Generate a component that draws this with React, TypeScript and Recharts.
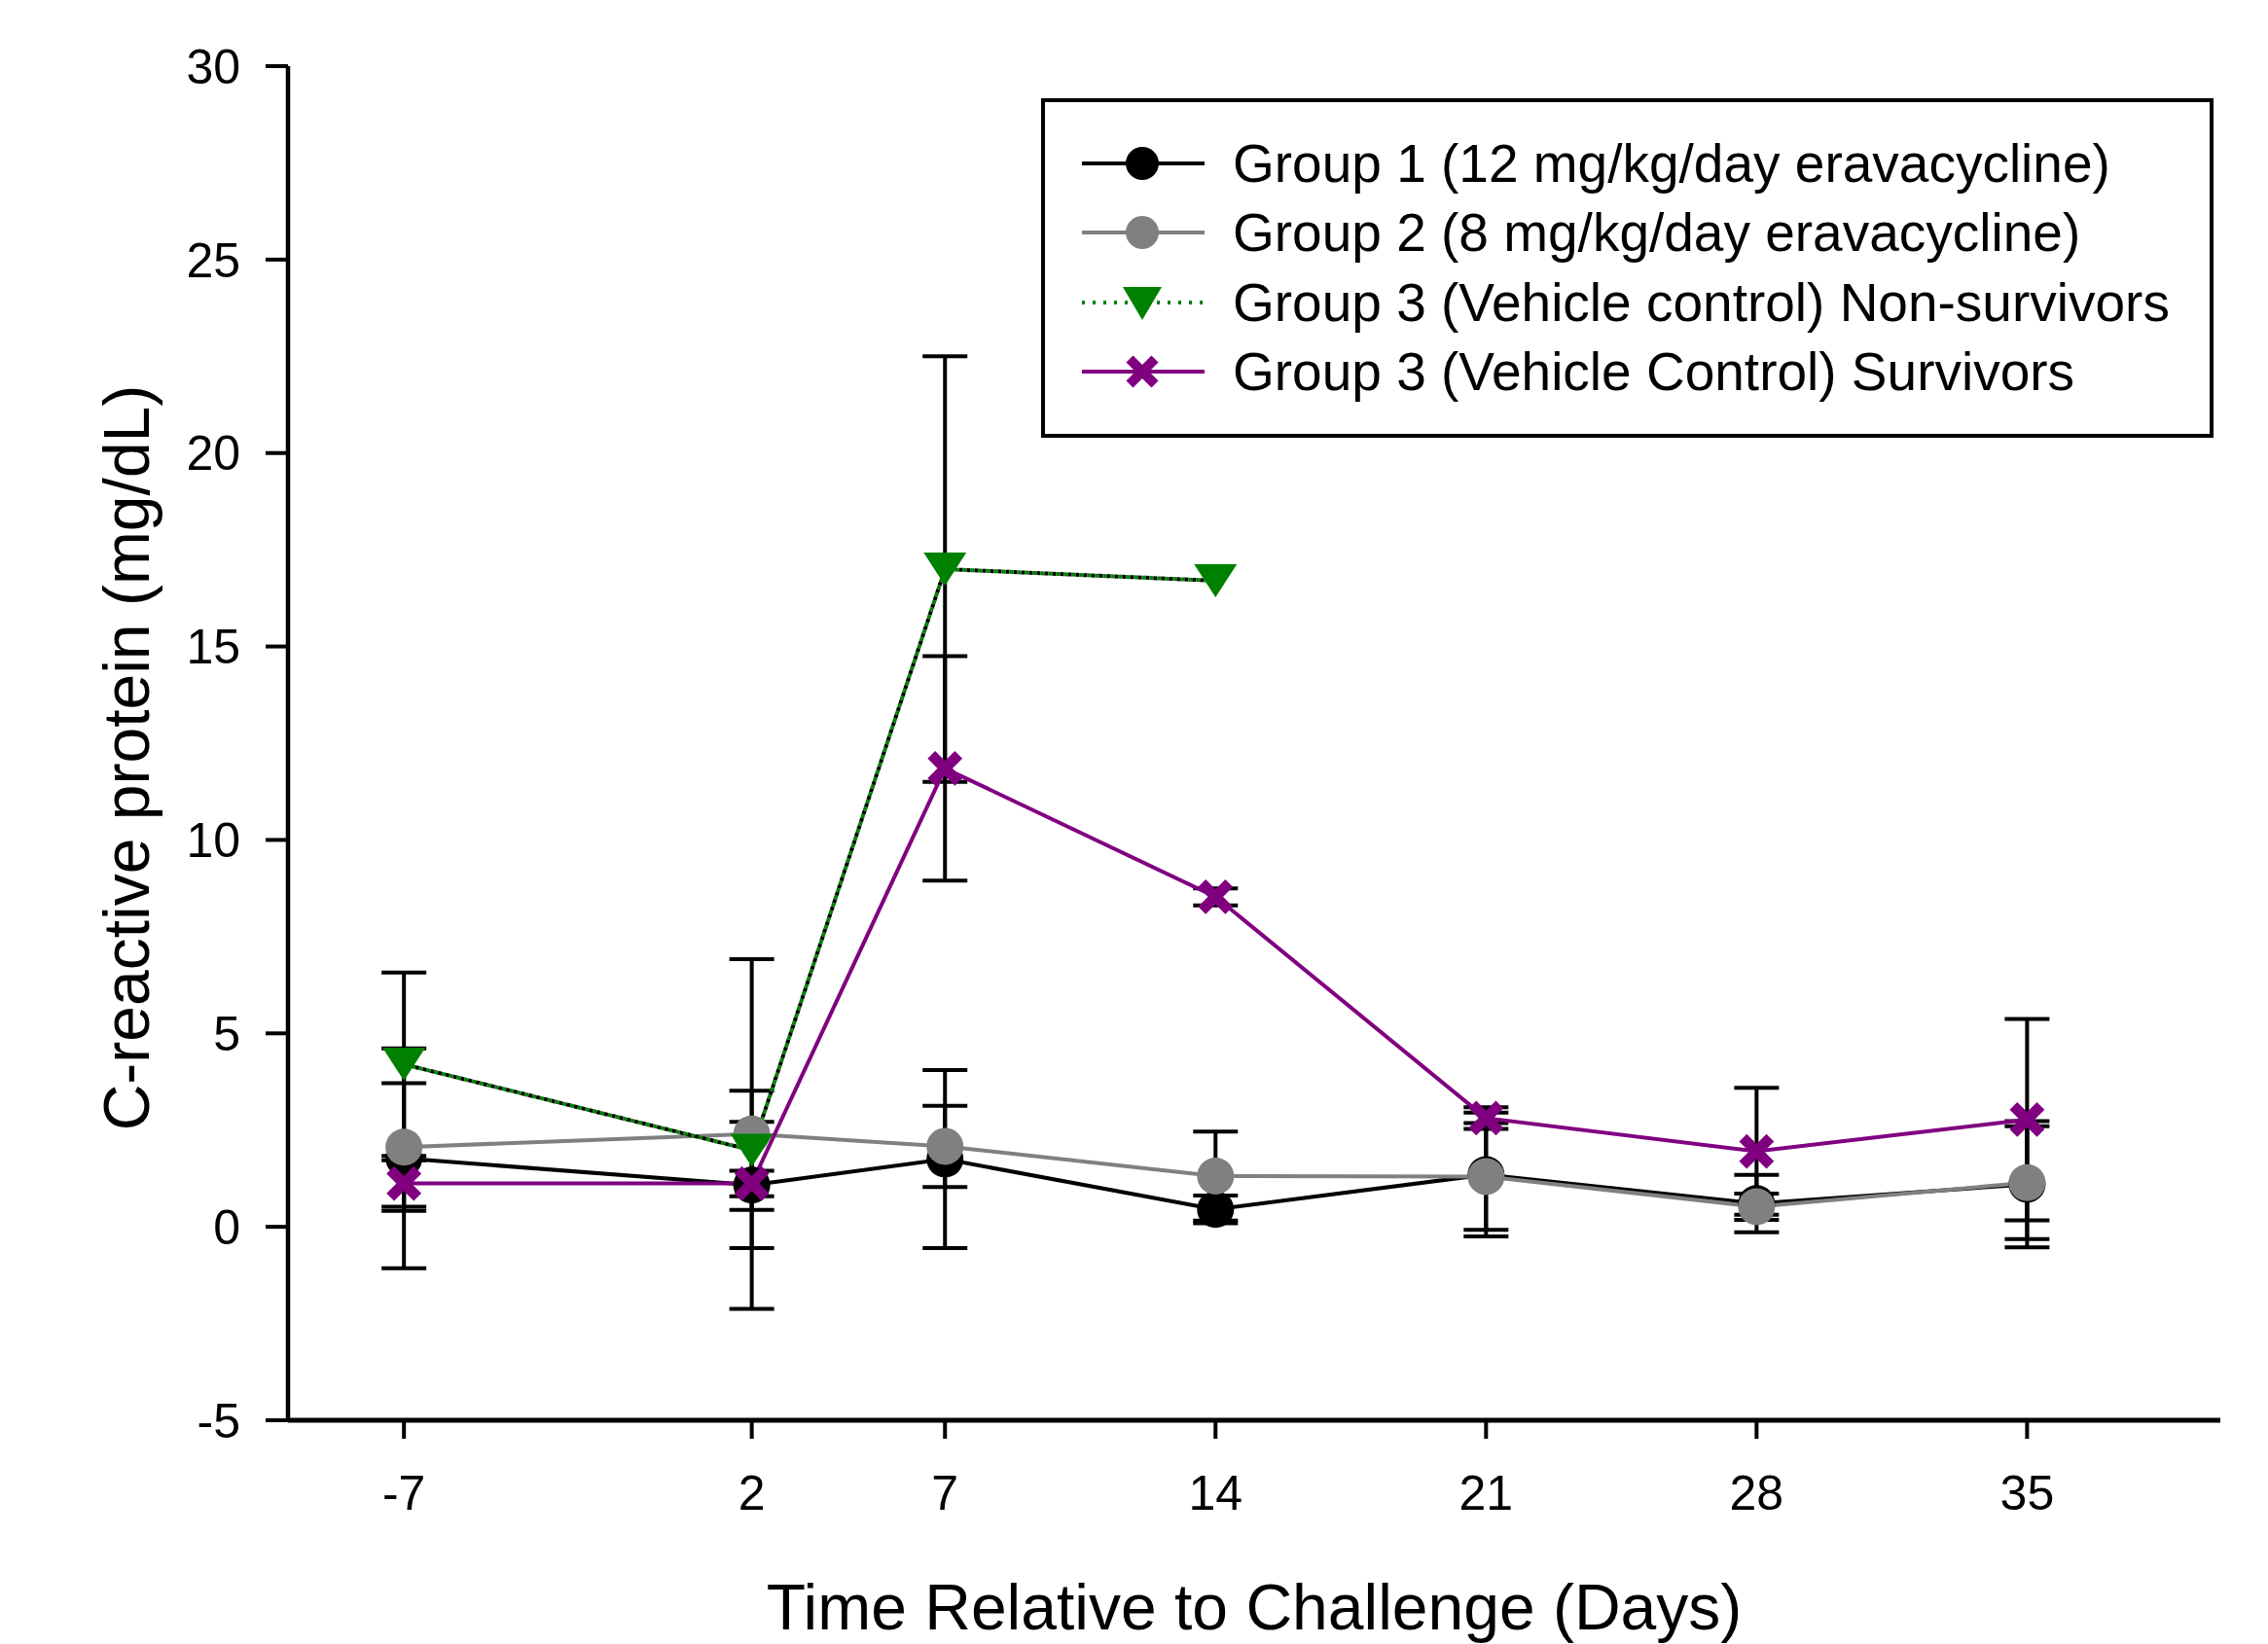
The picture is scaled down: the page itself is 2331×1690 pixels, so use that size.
import React from 'react';
import { ComposedChart, Line, XAxis, YAxis, ErrorBar, Legend, Label } from 'recharts';

// ---------- data ----------
const days = [-7, 2, 7, 14, 21, 28, 35];
const nonSurvivorDays = [-7, 2, 7, 14];

const group1Mean = [1.77, 1.08, 1.75, 0.45, 1.35, 0.6, 1.1];
const group1Err = [2.84, 1.63, 2.3, 0.36, 1.6, 0.74, 1.63];

const group2Mean = [2.06, 2.4, 2.08, 1.31, 1.3, 0.52, 1.14];
const group2Err = [1.65, 4.52, 1.05, 1.15, 1.38, 0.34, 1.46];

const group3NonSurvMean = [4.2, 1.98, 17.0, 16.7];
const group3NonSurvErr: (number | null)[] = [2.37, 1.54, 5.5, null];

const group3SurvMean = [1.12, 1.12, 11.85, 8.53, 2.81, 1.95, 2.77];
const group3SurvErr = [0.6, 0.33, 2.9, 0.22, 0.28, 1.64, 2.6];

const xTicks = [-7, 2, 7, 14, 21, 28, 35];
const yTicks = [-5, 0, 5, 10, 15, 20, 25, 30];

const seriesNames = [
  'Group 1 (12 mg/kg/day eravacycline)',
  'Group 2 (8 mg/kg/day eravacycline)',
  'Group 3 (Vehicle control) Non-survivors',
  'Group 3 (Vehicle Control) Survivors',
];

const xTitle = 'Time Relative to Challenge (Days)';
const yTitle = 'C-reactive protein (mg/dL)';

// ---------- helpers ----------
const build = (xs: number[], ys: number[], es: (number | null)[]) =>
  xs.map((x, i) => ({ x, y: ys[i], e: es[i] }));

const g1Data = build(days, group1Mean, group1Err);
const g2Data = build(days, group2Mean, group2Err);
const g3nsData = build(nonSurvivorDays, group3NonSurvMean, group3NonSurvErr);
const g3nsErrData = g3nsData.filter((d) => d.e != null);
const g3sData = build(days, group3SurvMean, group3SurvErr);

const FONT = '"Liberation Sans", Arial, Helvetica, sans-serif';
const BLACK = '#000000';
const GRAY = '#808080';
const GREEN = '#008000';
const PURPLE = '#800080';

const LINE_W = 4;
const MARK_R = 19;

const circleDot = (fill: string, r: number) => (props: any) => {
  const { cx, cy, index } = props;
  if (cx == null || cy == null) return <g key={`c${fill}${index}`} />;
  return <circle key={`c${fill}${index}`} cx={cx} cy={cy} r={r} fill={fill} />;
};

const triangleDot = (props: any) => {
  const { cx, cy, index } = props;
  if (cx == null || cy == null) return <g key={`t${index}`} />;
  const w = 22;
  const h = 17;
  return (
    <path
      key={`t${index}`}
      d={`M${cx - w},${cy - h} L${cx + w},${cy - h} L${cx},${cy + h} Z`}
      fill={GREEN}
    />
  );
};

const crossDot = (props: any) => {
  const { cx, cy, index } = props;
  if (cx == null || cy == null) return <g key={`x${index}`} />;
  const s = 14;
  return (
    <g key={`x${index}`} stroke={PURPLE} strokeWidth={11}>
      <line x1={cx - s} y1={cy - s} x2={cx + s} y2={cy + s} />
      <line x1={cx - s} y1={cy + s} x2={cx + s} y2={cy - s} />
    </g>
  );
};

const legendRows = [
  { name: seriesNames[0], color: BLACK, marker: 'circle', dash: undefined },
  { name: seriesNames[1], color: GRAY, marker: 'circle', dash: undefined },
  { name: seriesNames[2], color: GREEN, marker: 'triangle', dash: '3 8' },
  { name: seriesNames[3], color: PURPLE, marker: 'cross', dash: undefined },
];

const LegendBox = () => {
  const rowY = [67, 138, 210, 281];
  return (
    <svg width={1205} height={349} style={{ display: 'block' }}>
      <rect x={2} y={2} width={1201} height={345} fill="#fff" stroke={BLACK} strokeWidth={4} />
      {legendRows.map((r, i) => {
        const y = rowY[i];
        const mx = 104;
        let marker: React.ReactNode = null;
        if (r.marker === 'circle') marker = <circle cx={mx} cy={y} r={17} fill={r.color} />;
        if (r.marker === 'triangle')
          marker = <path d={`M${mx - 20},${y - 16} L${mx + 20},${y - 16} L${mx},${y + 18} Z`} fill={r.color} />;
        if (r.marker === 'cross')
          marker = (
            <g stroke={r.color} strokeWidth={10}>
              <line x1={mx - 13} y1={y - 13} x2={mx + 13} y2={y + 13} />
              <line x1={mx - 13} y1={y + 13} x2={mx + 13} y2={y - 13} />
            </g>
          );
        return (
          <g key={r.name}>
            <line x1={42} y1={y} x2={168} y2={y} stroke={r.color} strokeWidth={LINE_W} strokeDasharray={r.dash} />
            {marker}
            <text x={197} y={y + 19} fontSize={55} fontFamily={FONT} fill={BLACK}>
              {r.name}
            </text>
          </g>
        );
      })}
    </svg>
  );
};

const XTitle = (props: any) => {
  const vb = props.viewBox || { x: 296, y: 1460, width: 1986 };
  return (
    <text x={vb.x + vb.width / 2} y={vb.y + 215} textAnchor="middle" fontSize={66} fontFamily={FONT} fill={BLACK}>
      {xTitle}
    </text>
  );
};

const YTitle = (props: any) => {
  const vb = props.viewBox || { x: 0, y: 68, height: 1392 };
  const x = vb.x + 153;
  const y = vb.y + vb.height / 2 + 15;
  return (
    <text
      x={x}
      y={y}
      transform={`rotate(-90, ${x}, ${y})`}
      textAnchor="middle"
      fontSize={66}
      fontFamily={FONT}
      fill={BLACK}
    >
      {yTitle}
    </text>
  );
};

const errProps = { width: 23, strokeWidth: 4, stroke: BLACK, direction: 'y' as const };

export default function App() {
  return (
    <div style={{ position: 'absolute', left: 0, top: 0, width: 2331, height: 1690, background: '#fff', fontFamily: FONT }}>
      <ComposedChart width={2331} height={1690} margin={{ top: 68, right: 49, bottom: 0, left: 0 }}>
        <XAxis
          xAxisId="b"
          type="number"
          dataKey="x"
          domain={[-10, 40]}
          ticks={xTicks}
          allowDataOverflow
          height={230}
          tickSize={19}
          tickMargin={37}
          axisLine={{ stroke: BLACK, strokeWidth: 5 }}
          tickLine={{ stroke: BLACK, strokeWidth: 4 }}
          tick={{ fontSize: 50, fill: BLACK, fontFamily: FONT }}
        >
          <Label content={<XTitle />} />
        </XAxis>
        <XAxis
          xAxisId="t"
          orientation="top"
          type="number"
          dataKey="x"
          domain={[-10, 40]}
          height={0}
          tick={false}
          tickLine={false}
          axisLine={{ stroke: BLACK, strokeWidth: 4.5 }}
        />
        <YAxis
          yAxisId="l"
          type="number"
          domain={[-5, 30]}
          ticks={yTicks}
          allowDataOverflow
          width={296}
          tickSize={23}
          tickMargin={26}
          axisLine={{ stroke: BLACK, strokeWidth: 4.5 }}
          tickLine={{ stroke: BLACK, strokeWidth: 4 }}
          tick={{ fontSize: 50, fill: BLACK, fontFamily: FONT }}
        >
          <Label content={<YTitle />} />
        </YAxis>
        <YAxis
          yAxisId="r"
          orientation="right"
          type="number"
          domain={[-5, 30]}
          width={0}
          tick={false}
          tickLine={false}
          axisLine={{ stroke: BLACK, strokeWidth: 4.5 }}
        />

        {/* error bars (drawn beneath all lines and markers) */}
        <Line xAxisId="b" yAxisId="l" data={g1Data} dataKey="y" stroke="none" dot={false} activeDot={false} isAnimationActive={false} legendType="none">
          <ErrorBar dataKey="e" {...errProps} isAnimationActive={false} />
        </Line>
        <Line xAxisId="b" yAxisId="l" data={g2Data} dataKey="y" stroke="none" dot={false} activeDot={false} isAnimationActive={false} legendType="none">
          <ErrorBar dataKey="e" {...errProps} isAnimationActive={false} />
        </Line>
        <Line xAxisId="b" yAxisId="l" data={g3nsErrData} dataKey="y" stroke="none" dot={false} activeDot={false} isAnimationActive={false} legendType="none">
          <ErrorBar dataKey="e" {...errProps} isAnimationActive={false} />
        </Line>
        <Line xAxisId="b" yAxisId="l" data={g3sData} dataKey="y" stroke="none" dot={false} activeDot={false} isAnimationActive={false} legendType="none">
          <ErrorBar dataKey="e" {...errProps} isAnimationActive={false} />
        </Line>

        {/* series */}
        <Line
          xAxisId="b"
          yAxisId="l"
          name={seriesNames[0]}
          data={g1Data}
          dataKey="y"
          type="linear"
          stroke={BLACK}
          strokeWidth={LINE_W}
          dot={circleDot(BLACK, MARK_R)}
          activeDot={false}
          isAnimationActive={false}
        />
        <Line
          xAxisId="b"
          yAxisId="l"
          name={seriesNames[1]}
          data={g2Data}
          dataKey="y"
          type="linear"
          stroke={GRAY}
          strokeWidth={LINE_W}
          dot={circleDot(GRAY, MARK_R)}
          activeDot={false}
          isAnimationActive={false}
        />
        <Line
          xAxisId="b"
          yAxisId="l"
          data={g3nsData}
          dataKey="y"
          type="linear"
          stroke={BLACK}
          strokeWidth={LINE_W}
          strokeDasharray="4 4"
          strokeDashoffset={4}
          dot={false}
          activeDot={false}
          isAnimationActive={false}
          legendType="none"
        />
        <Line
          xAxisId="b"
          yAxisId="l"
          name={seriesNames[2]}
          data={g3nsData}
          dataKey="y"
          type="linear"
          stroke={GREEN}
          strokeWidth={LINE_W}
          strokeDasharray="4 4"
          dot={triangleDot}
          activeDot={false}
          isAnimationActive={false}
        />
        <Line
          xAxisId="b"
          yAxisId="l"
          name={seriesNames[3]}
          data={g3sData}
          dataKey="y"
          type="linear"
          stroke={PURPLE}
          strokeWidth={LINE_W}
          dot={crossDot}
          activeDot={false}
          isAnimationActive={false}
        />

        <Legend
          layout="horizontal"
          verticalAlign="middle"
          align="center"
          content={() => <LegendBox />}
          wrapperStyle={{ position: 'absolute', left: 1070, top: 101, width: 1205, height: 349, margin: 0, padding: 0 }}
        />
      </ComposedChart>
    </div>
  );
}
